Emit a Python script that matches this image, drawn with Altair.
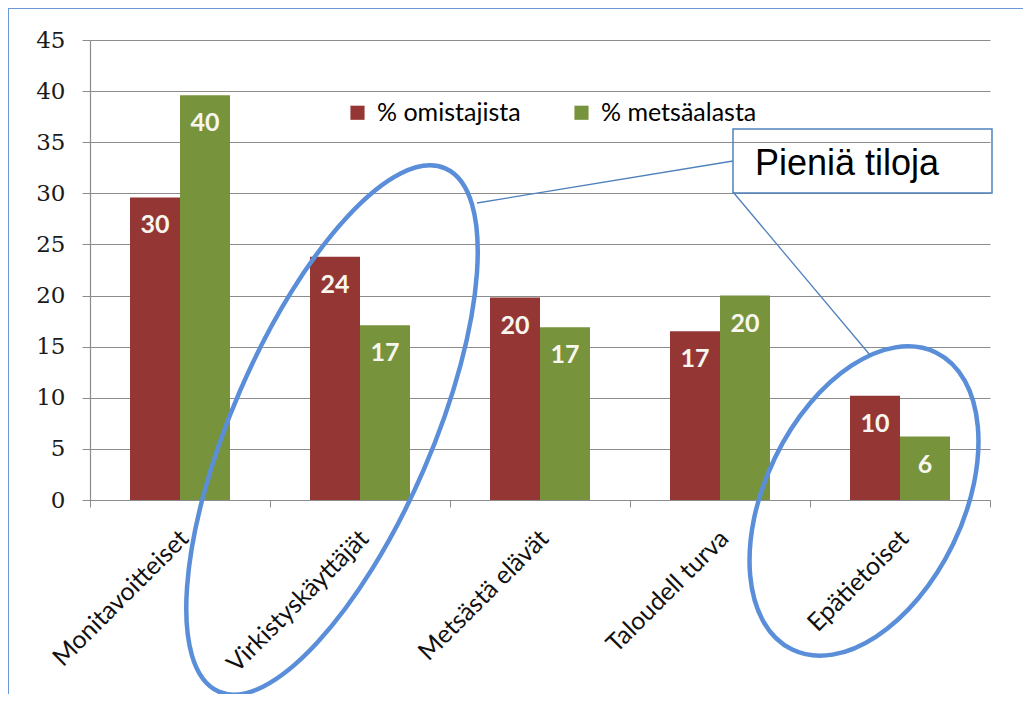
import altair as alt
import pandas as pd

# ---- data -------------------------------------------------------------
categories = ["Monitavoitteiset", "Virkistyskäyttäjät", "Metsästä elävät",
              "Taloudell turva", "Epätietoiset"]
series_names = ["% omistajista", "% metsäalasta"]
omistajista = [29.6, 23.8, 19.8, 16.5, 10.2]
metsaalasta = [39.6, 17.1, 16.9, 20.0, 6.2]
omistajista_labels = ["30", "24", "20", "17", "10"]
metsaalasta_labels = ["40", "17", "17", "20", "6"]
y_ticks = [0, 5, 10, 15, 20, 25, 30, 35, 40, 45]
callout_text = "Pieniä tiloja"

rows = []
for c, v, l in zip(categories, omistajista, omistajista_labels):
    rows.append({"Category": c, "Series": series_names[0], "Value": v, "Label": l})
for c, v, l in zip(categories, metsaalasta, metsaalasta_labels):
    rows.append({"Category": c, "Series": series_names[1], "Value": v, "Label": l})
df = pd.DataFrame(rows)
one = pd.DataFrame({"k": [0]})

RED = "#943634"
GREEN = "#77933c"
GRID = "#8c8c8c"
ELL = "#5a8ed8"
BOX = "#4f81bd"
FRAME = "#6c9ad9"

x_enc = alt.X(
    "Category:N", sort=categories,
    scale=alt.Scale(paddingInner=0, paddingOuter=0),
    axis=alt.Axis(title=None, labelAngle=-45, labelAlign="right", labelBaseline="middle",
                  labelFont="Lato", labelFontSize=25,
                  labelColor="#111", labelPadding=27, labelOffset=4, labelLimit=400,
                  tickBand="extent", ticks=True, tickSize=7, tickColor=GRID,
                  domainColor=GRID, domainWidth=1.2, grid=False),
)
xoff_enc = alt.XOffset("Series:N", sort=series_names,
                       scale=alt.Scale(paddingInner=0, paddingOuter=0.8))
y_enc = alt.Y(
    "Value:Q", scale=alt.Scale(domain=[0, 45], nice=False),
    axis=alt.Axis(title=None, values=y_ticks, grid=True, gridColor=GRID, gridWidth=1.2,
                  domainColor=GRID, domainWidth=1.2, tickColor=GRID, tickSize=8,
                  labelFont="DejaVu Serif", labelFontSize=23, labelColor="#1a1a1a",
                  labelPadding=17),
)
color_enc = alt.Color(
    "Series:N", sort=series_names,
    scale=alt.Scale(domain=series_names, range=[RED, GREEN]),
    legend=alt.Legend(orient="none", legendX=255, legendY=60, direction="horizontal",
                      title=None, symbolType="square", symbolSize=200,
                      symbolStrokeWidth=0, labelFont="Lato", labelFontSize=25,
                      labelColor="#000", columnPadding=48, labelOffset=7,
                      labelLimit=400),
)

bars = alt.Chart(df).mark_bar().encode(x=x_enc, xOffset=xoff_enc, y=y_enc, color=color_enc)

texts = alt.Chart(df).mark_text(
    font="Lato", fontWeight="bold", fontSize=25, color="#f8f6ee",
    baseline="middle", dy=28
).encode(x=alt.X("Category:N", sort=categories), xOffset=alt.XOffset("Series:N", sort=series_names),
         y="Value:Q", text="Label:N")


def ellipse_path(ratio):
    return (f"M 0 -1 A {ratio} 1 0 1 1 0 1 "
            f"A {ratio} 1 0 1 1 0 -1 Z")


ell1 = alt.Chart(one).mark_point(
    shape=ellipse_path(100 / 285), size=(2 * 285) ** 2, angle=23.4,
    filled=False, stroke=ELL, strokeWidth=4.5, opacity=1
).encode(x=alt.value(242), y=alt.value(390))

ell2 = alt.Chart(one).mark_point(
    shape=ellipse_path(99 / 165), size=(2 * 165) ** 2, angle=25.8,
    filled=False, stroke=ELL, strokeWidth=4.5, opacity=1
).encode(x=alt.value(774), y=alt.value(461))

lead1 = alt.Chart(one).mark_rule(color=BOX, strokeWidth=1.3).encode(
    x=alt.value(387), y=alt.value(163), x2=alt.value(643), y2=alt.value(121))
lead2 = alt.Chart(one).mark_rule(color=BOX, strokeWidth=1.3).encode(
    x=alt.value(643), y=alt.value(152), x2=alt.value(780), y2=alt.value(315))

box = alt.Chart(one).mark_rect(fillOpacity=0, stroke=BOX, strokeWidth=1.5).encode(
    x=alt.value(643), x2=alt.value(902), y=alt.value(89), y2=alt.value(153))
box_text = alt.Chart(one).mark_text(
    align="left", baseline="alphabetic", font="Liberation Sans", fontSize=36, color="#000"
).encode(x=alt.value(665), y=alt.value(135), text=alt.value(callout_text))

frame_left = alt.Chart(one).mark_rule(color=FRAME, strokeWidth=2).encode(
    x=alt.value(-82), y=alt.value(-32), y2=alt.value(660))
frame_top = alt.Chart(one).mark_rule(color=FRAME, strokeWidth=2).encode(
    x=alt.value(-82), x2=alt.value(935), y=alt.value(-32))

chart = alt.layer(
    bars, texts, ell1, ell2, lead1, lead2, box, box_text, frame_left, frame_top
).properties(
    width=900, height=460,
    autosize=alt.AutoSizeParams(type="none"),
    padding={"left": 82, "top": 32, "right": 33, "bottom": 194},
    background="white",
).configure_view(strokeWidth=0)

chart.save("out.html", embed_options={"renderer": "svg", "actions": False})
